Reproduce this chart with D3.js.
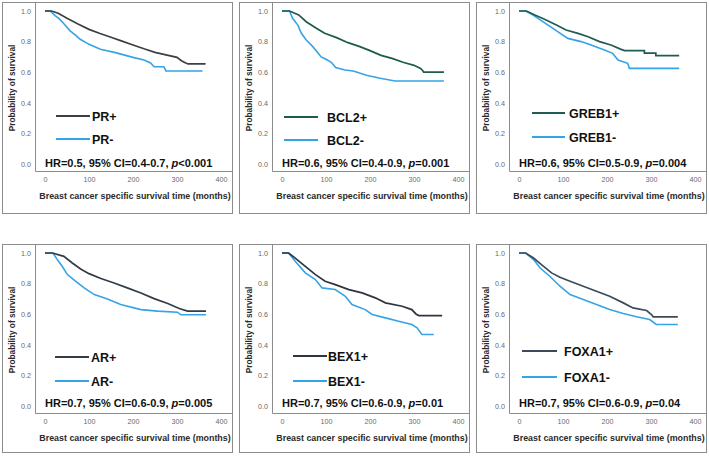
<!DOCTYPE html>
<html>
<head>
<meta charset="utf-8">
<script src="https://cdn.jsdelivr.net/npm/d3@7"></script>
<style>
  body { margin: 0; background: #fff; }
  svg { display: block; font-family: "Liberation Sans", Arial, sans-serif; }
</style>
</head>
<body>
<script>
// markers shown in each panel
var markers = ["PR", "BCL2", "GREB1", "AR", "BEX1", "FOXA1"];
var hrText = ["HR=0.5, 95% CI=0.4-0.7, ", "HR=0.6, 95% CI=0.4-0.9, ", "HR=0.6, 95% CI=0.5-0.9, ",
              "HR=0.7, 95% CI=0.6-0.9, ", "HR=0.7, 95% CI=0.6-0.9, ", "HR=0.7, 95% CI=0.6-0.9, "];
var pText = ["<0.001", "=0.001", "=0.004", "=0.005", "=0.01", "=0.04"];

var yTicks = [0, 0.2, 0.4, 0.6, 0.8, 1.0];
var xTicks = [0, 100, 200, 300, 400];

// survival curves: [months, probability]
var prPos = [[0,1],[15,1],[30,0.985],[50,0.952],[75,0.915],[100,0.88],[125,0.853],[150,0.828],[175,0.803],[200,0.778],[225,0.753],[250,0.73],[275,0.713],[300,0.697],[310,0.675],[320,0.66],[325,0.654],[365,0.654]];
var prNeg = [[0,1],[12,1],[23,0.97],[32,0.95],[42,0.92],[57,0.87],[70,0.84],[80,0.815],[100,0.782],[126,0.75],[160,0.728],[200,0.697],[225,0.68],[240,0.66],[248,0.636],[270,0.636],[275,0.608],[358,0.608]];
var bcl2Pos = [[0,1],[17,1],[38,0.974],[55,0.93],[78,0.887],[97,0.854],[124,0.826],[150,0.793],[177,0.767],[200,0.741],[225,0.71],[250,0.69],[275,0.665],[300,0.645],[315,0.625],[320,0.61],[322,0.601],[368,0.601]];
var bcl2Neg = [[0,1],[17,1],[24,0.952],[36,0.908],[44,0.854],[55,0.81],[70,0.767],[89,0.70],[100,0.685],[112,0.665],[122,0.63],[143,0.614],[162,0.608],[192,0.58],[223,0.56],[257,0.542],[368,0.542]];
var greb1Pos = [[0,1],[17,1],[36,0.974],[58,0.946],[85,0.908],[107,0.876],[134,0.854],[157,0.832],[183,0.80],[209,0.778],[232,0.749],[240,0.741],[285,0.741],[285,0.725],[311,0.725],[311,0.708],[364,0.708]];
var greb1Neg = [[0,1],[15,1],[32,0.974],[43,0.952],[66,0.908],[88,0.865],[111,0.821],[141,0.80],[164,0.778],[194,0.745],[213,0.723],[225,0.68],[247,0.658],[251,0.625],[364,0.625]];
var arPos = [[0,1],[17,1],[43,0.978],[62,0.935],[81,0.896],[100,0.865],[127,0.833],[157,0.804],[187,0.772],[218,0.739],[248,0.702],[279,0.67],[305,0.637],[324,0.62],[366,0.62]];
var arNeg = [[0,1],[18,1],[28,0.957],[39,0.913],[51,0.859],[70,0.815],[89,0.772],[112,0.728],[142,0.70],[172,0.663],[218,0.63],[256,0.62],[301,0.613],[309,0.596],[366,0.596]];
var bex1Pos = [[0,1],[15,1],[30,0.967],[53,0.913],[76,0.859],[98,0.815],[121,0.793],[152,0.761],[182,0.739],[212,0.707],[235,0.674],[273,0.652],[295,0.63],[305,0.60],[311,0.591],[364,0.591]];
var bex1Neg = [[0,1],[15,1],[30,0.946],[53,0.87],[76,0.826],[91,0.772],[121,0.761],[144,0.717],[159,0.663],[189,0.63],[205,0.598],[235,0.576],[265,0.554],[295,0.533],[307,0.511],[318,0.467],[345,0.467]];
var foxa1Pos = [[0,1],[15,1],[33,0.967],[51,0.924],[74,0.87],[93,0.841],[116,0.815],[146,0.783],[176,0.75],[206,0.717],[237,0.674],[259,0.641],[290,0.624],[301,0.598],[305,0.583],[361,0.583]];
var foxa1Neg = [[0,1],[15,1],[33,0.957],[48,0.902],[70,0.848],[93,0.783],[116,0.728],[146,0.696],[176,0.663],[206,0.63],[237,0.604],[267,0.583],[297,0.565],[312,0.533],[361,0.533]];

var posCurves = [prPos, bcl2Pos, greb1Pos, arPos, bex1Pos, foxa1Pos];
var negCurves = [prNeg, bcl2Neg, greb1Neg, arNeg, bex1Neg, foxa1Neg];

// colours
var posColors = ["#3b4046", "#1e5b4c", "#1f5c52", "#343c48", "#2f3540", "#3c4a59"];
var negColor = "#35a3e6";
var frameColor = "#8c8c8c";

// layout of panels
var colsX = [2, 239, 476];
var rowsY = [2, 244];
var frameW = 230;
var frameH = [211, 208];
// legend: line start, line end, text x, y of first row, y of second row (relative to panel)
var legendPos = [
  [54, 88, 90, 114, 137],
  [45, 79, 88, 115, 138],
  [56, 89, 93, 111, 135],
  [53, 87, 89, 113, 137],
  [54, 88, 89, 112, 137],
  [46, 81, 88, 107, 133]
];

var svg = d3.select("body").append("svg")
      .attr("width", 709)
      .attr("height", 459);

svg.append("rect").attr("width", 709).attr("height", 459).attr("fill", "#fff");

markers.forEach(function (name, i) {
  var ox = colsX[i % 3], oy = rowsY[Math.floor(i / 3)];
  var fh = frameH[Math.floor(i / 3)];
  var g = svg.append("g").attr("transform", "translate(" + ox + "," + oy + ")");

  var plotLeft = 33, plotBottom = 169;

  var x = d3.scaleLinear().domain([0, 400]).range([43, 219]);
  var y = d3.scaleLinear().domain([0, 1]).range([162, 9]);

  // outer frame
  g.append("rect")
      .attr("x", 0.5).attr("y", 0.5)
      .attr("width", frameW).attr("height", fh)
      .attr("fill", "none")
      .attr("stroke", frameColor)
      .attr("stroke-width", 1);

  // plot box (left and bottom edges)
  g.append("path")
      .attr("d", "M" + (plotLeft + 0.5) + ",0.5V" + (plotBottom + 0.5) + "H" + (frameW + 0.5))
      .attr("fill", "none")
      .attr("stroke", frameColor)
      .attr("stroke-width", 1);

  var yAxis = d3.axisLeft(y).tickValues(yTicks).tickSize(0).tickPadding(4)
      .tickFormat(d3.format(".1f"));
  var xAxis = d3.axisBottom(x).tickValues(xTicks).tickSize(0).tickPadding(0);

  var ya = g.append("g").attr("transform", "translate(" + plotLeft + ",0)").call(yAxis);
  var xa = g.append("g").attr("transform", "translate(0," + (plotBottom + 6) + ")").call(xAxis);
  [ya, xa].forEach(function (a) {
    a.select(".domain").remove();
    a.selectAll("text")
        .attr("fill", "#6a6a6a")
        .style("font-size", "7.2px")
        .style("font-family", "'Liberation Sans', Arial, sans-serif");
  });

  // axis titles
  g.append("text")
      .attr("transform", "translate(10," + 86 + ") rotate(-90)")
      .attr("text-anchor", "middle")
      .attr("dy", "0.35em")
      .attr("fill", "#2a2a2a")
      .style("font-size", "8.3px")
      .style("font-weight", "bold")
      .text("Probability of survival");

  g.append("text")
      .attr("x", 133)
      .attr("y", plotBottom + 25)
      .attr("text-anchor", "middle")
      .attr("dy", "0.35em")
      .attr("fill", "#2a2a2a")
      .style("font-size", "8.9px")
      .style("font-weight", "bold")
      .text("Breast cancer specific survival time (months)");

  // curves
  var line = d3.line()
      .x(function (d) { return x(d[0]); })
      .y(function (d) { return y(d[1]); });

  g.append("path")
      .datum(negCurves[i])
      .attr("d", line)
      .attr("fill", "none")
      .attr("stroke", negColor)
      .attr("stroke-width", 1.6);

  g.append("path")
      .datum(posCurves[i])
      .attr("d", line)
      .attr("fill", "none")
      .attr("stroke", posColors[i])
      .attr("stroke-width", 1.7);

  // legend
  var lp = legendPos[i];
  var legendItems = [[name + "+", posColors[i], lp[3]], [name + "-", negColor, lp[4]]];
  legendItems.forEach(function (d) {
    g.append("line")
        .attr("x1", lp[0]).attr("x2", lp[1])
        .attr("y1", d[2]).attr("y2", d[2])
        .attr("stroke", d[1])
        .attr("stroke-width", 2);
    g.append("text")
        .attr("x", lp[2])
        .attr("y", d[2])
        .attr("dy", "0.36em")
        .attr("fill", "#111")
        .style("font-size", "12.5px")
        .style("font-weight", "bold")
        .text(d[0]);
  });

  // hazard ratio
  var hr = g.append("text")
      .attr("x", 43)
      .attr("y", i < 3 ? 165 : 163)
      .attr("fill", "#111")
      .style("font-size", "11px")
      .style("font-weight", "bold");
  hr.append("tspan").text(hrText[i]);
  hr.append("tspan").style("font-style", "italic").text("p");
  hr.append("tspan").text(pText[i]);
});
</script>
</body>
</html>
